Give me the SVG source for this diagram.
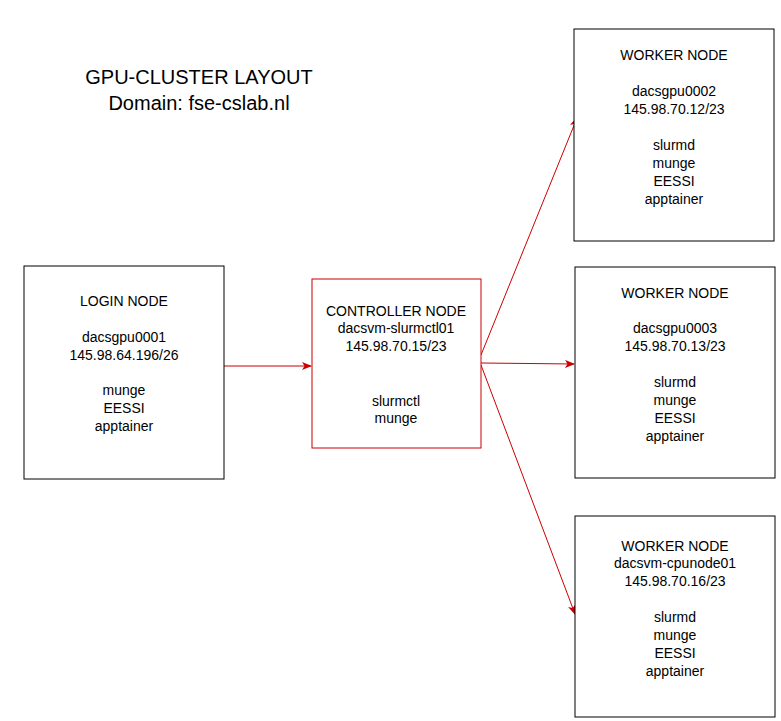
<svg xmlns="http://www.w3.org/2000/svg" width="781" height="721" viewBox="0 0 781 721">
<style>
text{font-family:"Liberation Sans",Arial,sans-serif;font-size:14px;fill:#000;text-anchor:middle}
.t{font-size:20px}
.n{fill:#fff;stroke:#000;stroke-width:1}
.r{stroke:#c00}
.c{stroke:#c00;stroke-width:1;fill:none;marker-end:url(#a)}
</style>
<defs><marker id="a" markerWidth="10" markerHeight="8" refX="9" refY="4" orient="auto" markerUnits="userSpaceOnUse"><path d="M0,0L10,4L0,8L2.5,4Z" fill="#c00"/></marker></defs>
<rect width="781" height="721" fill="#fff"/>
<g id="title"><text class="t" x="199" y="84">GPU-CLUSTER LAYOUT</text><text class="t" x="199" y="110">Domain: fse-cslab.nl</text></g>
<g id="connectors">
<line class="c" x1="224" y1="366" x2="311" y2="366"/>
<line class="c" x1="481" y1="355" x2="577" y2="118"/>
<line class="c" x1="481" y1="363" x2="574" y2="364"/>
<line class="c" x1="481" y1="365" x2="575" y2="614"/>
</g>
<g id="login"><rect class="n" x="24" y="266" width="200" height="213"/>
<text x="124" y="306">LOGIN NODE</text><text x="124" y="342">dacsgpu0001</text><text x="124" y="360">145.98.64.196/26</text><text x="124" y="395">munge</text><text x="124" y="413">EESSI</text><text x="124" y="431">apptainer</text></g>
<g id="controller"><rect class="n r" x="312" y="279" width="169" height="169"/>
<text x="396" y="316">CONTROLLER NODE</text><text x="396" y="333">dacsvm-slurmctl01</text><text x="396" y="351">145.98.70.15/23</text><text x="396" y="406">slurmctl</text><text x="396" y="423">munge</text></g>
<g id="worker1"><rect class="n" x="574" y="29" width="200" height="212"/>
<text x="674" y="60">WORKER NODE</text><text x="674" y="96">dacsgpu0002</text><text x="674" y="114">145.98.70.12/23</text><text x="674" y="150">slurmd</text><text x="674" y="168">munge</text><text x="674" y="186">EESSI</text><text x="674" y="204">apptainer</text></g>
<g id="worker2"><rect class="n" x="575" y="267" width="200" height="211"/>
<text x="675" y="298">WORKER NODE</text><text x="675" y="333">dacsgpu0003</text><text x="675" y="351">145.98.70.13/23</text><text x="675" y="387">slurmd</text><text x="675" y="405">munge</text><text x="675" y="423">EESSI</text><text x="675" y="441">apptainer</text></g>
<g id="worker3"><rect class="n" x="575" y="516" width="200" height="201"/>
<text x="675" y="551">WORKER NODE</text><text x="675" y="568">dacsvm-cpunode01</text><text x="675" y="586">145.98.70.16/23</text><text x="675" y="622">slurmd</text><text x="675" y="640">munge</text><text x="675" y="658">EESSI</text><text x="675" y="676">apptainer</text></g>
</svg>
